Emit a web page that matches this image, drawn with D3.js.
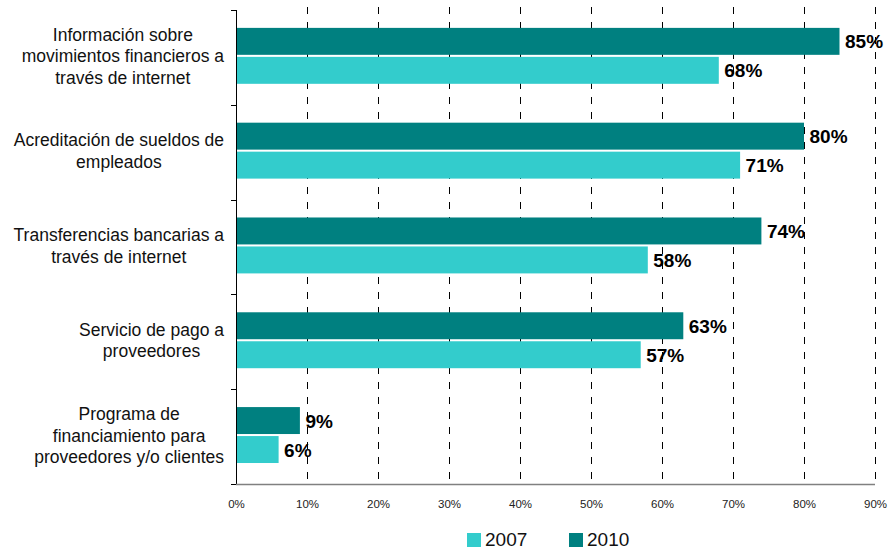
<!DOCTYPE html>
<html>
<head>
<meta charset="utf-8">
<script src="https://cdn.jsdelivr.net/npm/d3@7"></script>
<style>
  html, body { margin: 0; padding: 0; background: #fff; }
  svg { display: block; font-family: Arial, "Liberation Sans", Helvetica, sans-serif; }
</style>
</head>
<body>
<svg id="chart" width="888" height="552"></svg>
<script>
// Service categories (wrapped as they appear beside the axis)
const categoryLines = [
  ["Información sobre", "movimientos financieros a", "través de internet"],
  ["Acreditación de sueldos de", "empleados"],
  ["Transferencias bancarias a", "través de internet"],
  ["Servicio de pago a", "proveedores"],
  ["Programa de", "financiamiento para", "proveedores y/o clientes"]
];
const categories = categoryLines.map(l => l.join(" "));

// Share of companies using each service, per survey year
const years = ["2010", "2007"];
const values2010 = [0.85, 0.80, 0.74, 0.63, 0.09];
const values2007 = [0.68, 0.71, 0.58, 0.57, 0.06];

// Axis ticks
const xTicks = [0, 0.1, 0.2, 0.3, 0.4, 0.5, 0.6, 0.7, 0.8, 0.9];

// Legend order
const legendYears = ["2007", "2010"];

const colors = { "2010": "#008080", "2007": "#33CCCC" };

const svg = d3.select("#chart");

const plot = { left: 236, right: 875, top: 10, bottom: 484 };

const x = d3.scaleLinear().domain([0, 0.9]).range([plot.left, plot.right]);

const y0 = d3.scaleBand()
  .domain(categories)
  .range([plot.top, plot.bottom])
  .paddingInner(0.41)
  .paddingOuter(0.205)
  .align(0.46);

const y1 = d3.scaleBand()
  .domain(years)
  .range([0, y0.bandwidth()])
  .paddingInner(0.07);

const rows = categories.map((c, i) => ({
  category: c,
  lines: categoryLines[i],
  bars: [
    { year: "2010", value: values2010[i] },
    { year: "2007", value: values2007[i] }
  ]
}));

// Dashed vertical gridlines
svg.append("g")
  .selectAll("line")
  .data(xTicks.filter(d => d > 0))
  .join("line")
  .attr("x1", d => Math.round(x(d)) + 0.5)
  .attr("x2", d => Math.round(x(d)) + 0.5)
  .attr("y1", plot.top - 3)
  .attr("y2", plot.bottom)
  .attr("stroke", "#000")
  .attr("stroke-width", 1)
  .attr("stroke-dasharray", "7,8");

// Bars
const groups = svg.append("g")
  .selectAll("g")
  .data(rows)
  .join("g")
  .attr("transform", d => `translate(0,${y0(d.category)})`);

groups.selectAll("rect")
  .data(d => d.bars)
  .join("rect")
  .attr("x", x(0))
  .attr("y", d => y1(d.year))
  .attr("width", d => x(d.value) - x(0))
  .attr("height", y1.bandwidth())
  .attr("fill", d => colors[d.year]);

// Value labels
groups.selectAll("text")
  .data(d => d.bars)
  .join("text")
  .attr("x", d => x(d.value) + 5.5)
  .attr("y", d => y1(d.year) + y1.bandwidth() / 2)
  .attr("dy", "0.37em")
  .attr("font-size", 19)
  .attr("font-weight", "bold")
  .attr("fill", "#000")
  .text(d => d3.format(".0%")(d.value));

// Y axis line and category separators
svg.append("line")
  .attr("x1", plot.left + 0.5).attr("x2", plot.left + 0.5)
  .attr("y1", plot.top).attr("y2", plot.bottom)
  .attr("stroke", "#000");

svg.append("g")
  .selectAll("line")
  .data(d3.range(categories.length + 1))
  .join("line")
  .attr("x1", plot.left - 5)
  .attr("x2", plot.left)
  .attr("y1", i => Math.round(plot.top + i * y0.step()) + 0.5)
  .attr("y2", i => Math.round(plot.top + i * y0.step()) + 0.5)
  .attr("stroke", "#000");

// X axis
svg.append("line")
  .attr("x1", plot.left).attr("x2", plot.right)
  .attr("y1", plot.bottom + 0.5).attr("y2", plot.bottom + 0.5)
  .attr("stroke", "#808080")
  .attr("stroke-width", 1.5);

const xAxis = svg.append("g")
  .attr("transform", `translate(0,${plot.bottom})`)
  .call(d3.axisBottom(x).tickValues(xTicks).tickFormat(d3.format(".0%")).tickSize(0).tickPadding(15.5));
xAxis.select(".domain").remove();
xAxis.selectAll("text")
  .attr("font-size", 11.5)
  .attr("font-family", "Arial, 'Liberation Sans', sans-serif")
  .attr("fill", "#222");

// Category labels: lines centered on the widest line, block right-aligned to the axis
const labelRight = 224;
const lineHeight = 21.5;
rows.forEach(r => {
  const cy = y0(r.category) + y0.bandwidth() / 2;
  const g = svg.append("g");
  const texts = g.selectAll("text")
    .data(r.lines)
    .join("text")
    .attr("font-size", 17.5)
    .attr("fill", "#111")
    .attr("text-anchor", "middle")
    .attr("y", (d, i) => cy + 6.5 + (i - (r.lines.length - 1) / 2) * lineHeight)
    .text(d => d);
  let maxW = 0;
  texts.each(function () { maxW = Math.max(maxW, this.getComputedTextLength()); });
  texts.attr("x", labelRight - maxW / 2);
});

// Legend
const legend = svg.append("g");
let lx = 467;
legendYears.forEach(yr => {
  legend.append("rect")
    .attr("x", lx).attr("y", 533)
    .attr("width", 14).attr("height", 14)
    .attr("fill", colors[yr]);
  legend.append("text")
    .attr("x", lx + 18).attr("y", 546)
    .attr("font-size", 19)
    .attr("fill", "#111")
    .text(yr);
  lx += 102;
});
</script>
</body>
</html>
